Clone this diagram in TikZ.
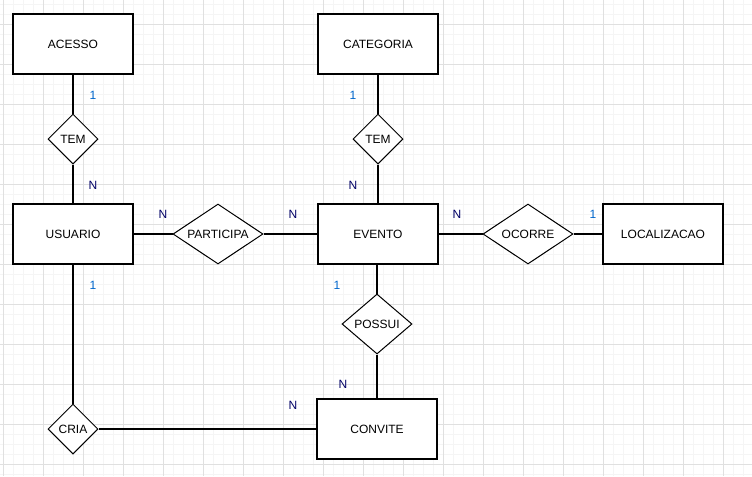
\documentclass[tikz,border=0pt]{standalone}
\usepackage{fontspec}
\setmainfont{Liberation Sans}
\usetikzlibrary{shapes.geometric}
\definecolor{gridmajor}{HTML}{E0E0E0}
\definecolor{gridminor}{HTML}{F5F5F5}
\definecolor{onecol}{HTML}{0066CC}
\definecolor{ncol}{HTML}{000066}
\tikzset{
  entity/.style={draw=black, line width=0.9pt, fill=white, minimum width=90pt, minimum height=45pt, inner sep=0pt, font=\fontsize{9}{10}\selectfont},
  rel/.style={draw=black, line width=0.75pt, fill=white, diamond, inner sep=0pt, font=\fontsize{9}{10}\selectfont},
  card/.style={inner sep=0pt, font=\fontsize{9}{10}\selectfont},
  one/.style={card, text=onecol},
  many/.style={card, text=ncol},
  link/.style={draw=black, line width=0.9pt}
}
\begin{document}
\begin{tikzpicture}[x=0.75pt, y=-0.75pt]
\useasboundingbox (0,0) rectangle (752,476);
\fill[white] (0,0) rectangle (752,476);
% grid
\foreach \i in {-7,3,...,753} {\draw[gridminor, line width=0.75pt] (\i,0) -- (\i,476);}
\foreach \j in {4,14,...,476} {\draw[gridminor, line width=0.75pt] (0,\j) -- (752,\j);}
\foreach \i in {3,43,...,753} {\draw[gridmajor, line width=0.75pt] (\i,0) -- (\i,476);}
\foreach \j in {24,64,...,476} {\draw[gridmajor, line width=0.75pt] (0,\j) -- (752,\j);}
% entities
\node[entity] (acesso) at (73,44) {ACESSO};
\node[entity] (categoria) at (378,44) {CATEGORIA};
\node[entity] (usuario) at (73,234) {USUARIO};
\node[entity] (evento) at (378,234) {EVENTO};
\node[entity] (local) at (663,234) {LOCALIZACAO};
\node[entity] (convite) at (377,429) {CONVITE};
% relationships
\node[rel, minimum width=37.5pt, minimum height=37.5pt] (tem1) at (73,139) {TEM};
\node[rel, minimum width=37.5pt, minimum height=37.5pt] (tem2) at (378,139) {TEM};
\node[rel, minimum width=67.5pt, minimum height=45pt, aspect=1.5] (participa) at (218,234) {PARTICIPA};
\node[rel, minimum width=67.5pt, minimum height=45pt, aspect=1.5] (ocorre) at (528,234) {OCORRE};
\node[rel, minimum width=52.5pt, minimum height=45pt, aspect=1.17] (possui) at (377,324) {POSSUI};
\node[rel, minimum width=37.5pt, minimum height=37.5pt] (cria) at (73,429) {CRIA};
% connectors
\draw[link] (acesso) -- (tem1);
\draw[link] (tem1) -- (usuario);
\draw[link] (categoria) -- (tem2);
\draw[link] (tem2) -- (evento);
\draw[link] (usuario) -- (participa);
\draw[link] (participa) -- (evento);
\draw[link] (evento) -- (ocorre);
\draw[link] (ocorre) -- (local);
\draw[link] (evento.south -| possui.north) -- (possui);
\draw[link] (possui) -- (convite.north -| possui.south);
\draw[link] (usuario) -- (cria);
\draw[link] (cria) -- (convite);
% cardinalities
\node[one] (c1) at (93,95) {1};
\node[many] (c2) at (93,185) {N};
\node[many] (c3) at (163,214) {N};
\node[many] (c4) at (293,214) {N};
\node[one] (c5) at (353,95) {1};
\node[many] (c6) at (353,185) {N};
\node[many] (c7) at (457,214) {N};
\node[one] (c8) at (593,214) {1};
\node[one] (c9) at (337,285) {1};
\node[many] (c10) at (343,384) {N};
\node[many] (c11) at (293,405) {N};
\node[one] (c12) at (93,285) {1};
\end{tikzpicture}
\end{document}
